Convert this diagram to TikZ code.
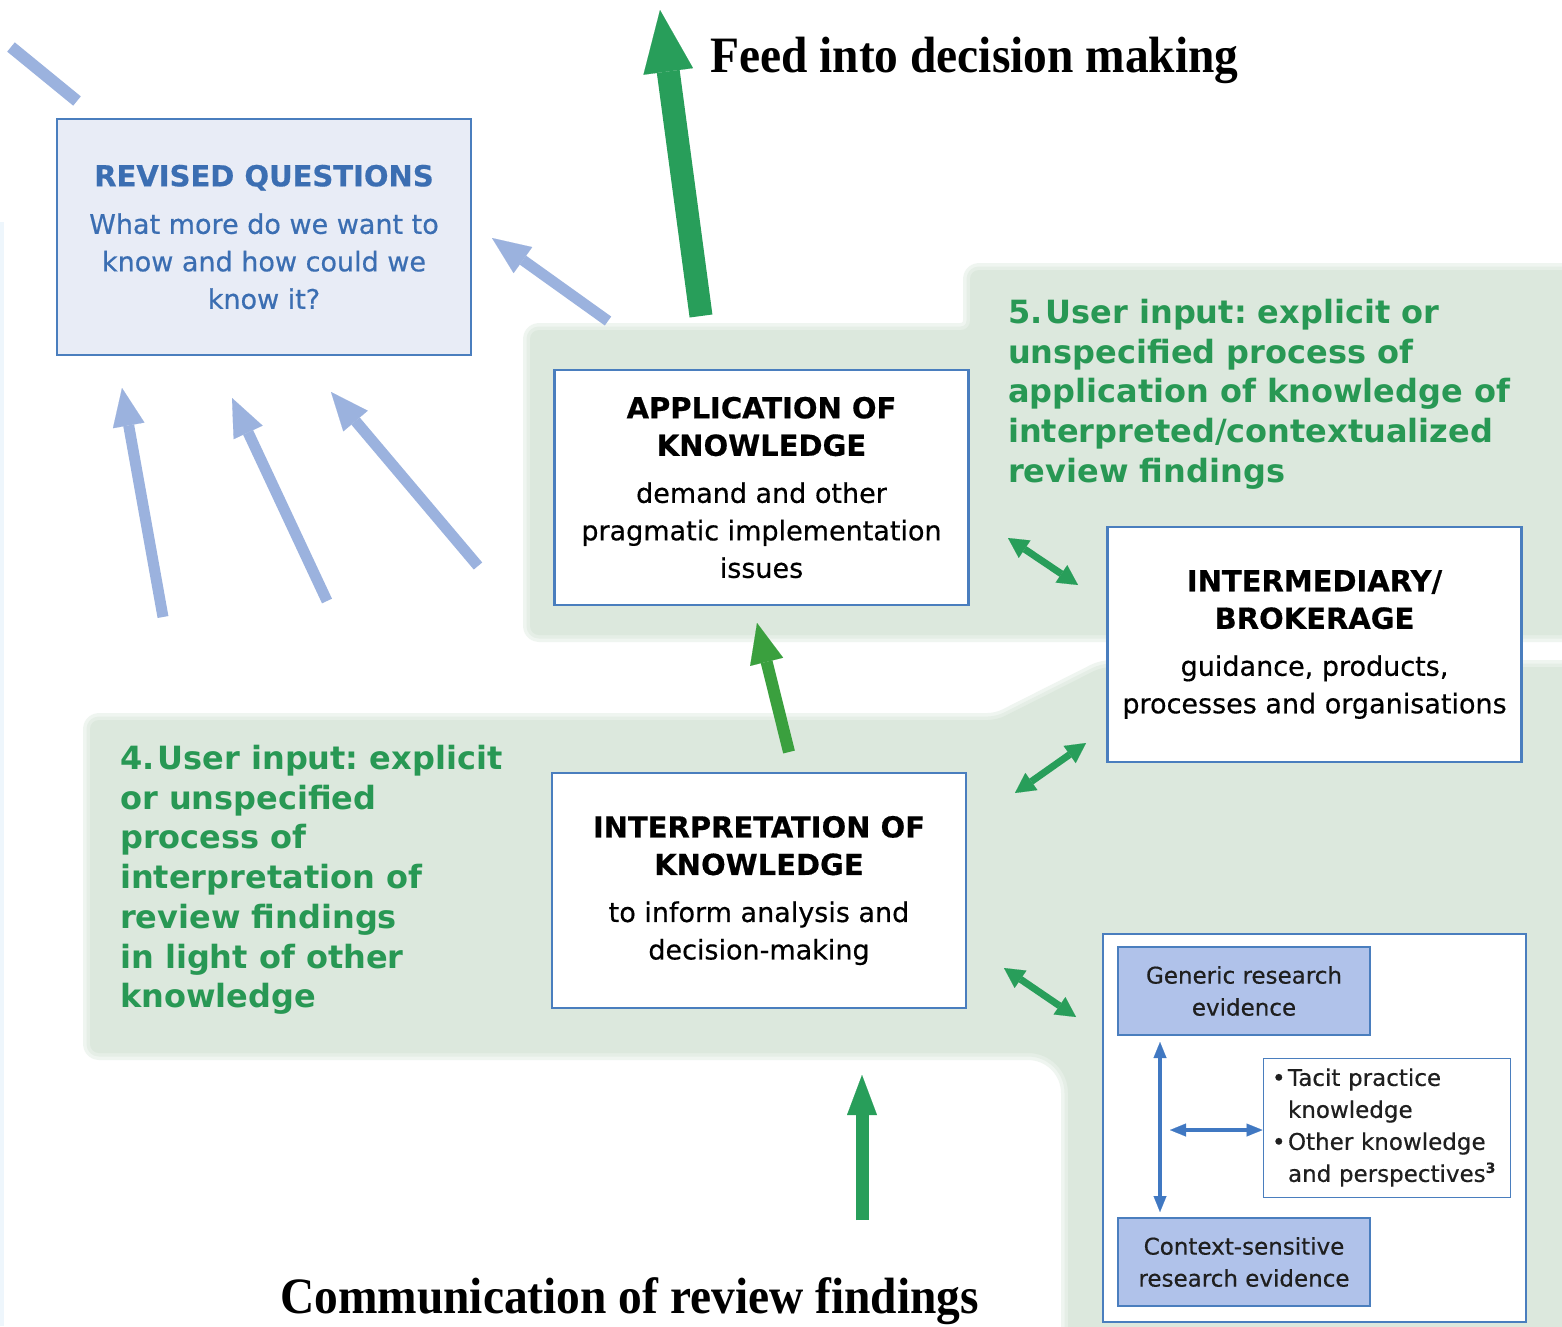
\documentclass[tikz,border=0pt]{standalone}
\usepackage{fontspec}
\setmainfont{DejaVu Sans}
\newfontfamily\titlefont{Liberation Serif}
\newfontfamily\bodyfam{DejaVu Sans}[FakeBold=0.5]
\usetikzlibrary{arrows.meta,calc}
\frenchspacing

\definecolor{bggreen}{RGB}{220,232,221}
\definecolor{boxblue}{RGB}{74,126,190}
\definecolor{qblue}{RGB}{59,110,178}
\definecolor{qfill}{RGB}{232,236,246}
\definecolor{evfill}{RGB}{176,194,234}
\definecolor{gtext}{RGB}{40,152,84}
\definecolor{garrow}{RGB}{40,158,90}
\definecolor{garrowb}{RGB}{58,160,62}
\definecolor{larrow}{RGB}{155,178,222}
\definecolor{evarrow}{RGB}{64,120,194}
\definecolor{edgestrip}{RGB}{238,246,252}

\newcommand\hdfont{\fontsize{29}{37.5}\selectfont\bfseries}
\newcommand\bdfont{\bodyfam\fontsize{27}{37.5}\selectfont}
\newcommand\evfont{\bodyfam\fontsize{23}{32}\selectfont}
\newcommand\usrfont{\fontsize{32}{39.7}\selectfont\bfseries}
\newcommand\ttlfont{\titlefont\fontsize{51}{60}\selectfont\bfseries}

\tikzset{
  card/.style={draw=boxblue, line width=2.2pt, fill=white, inner sep=0pt,
    minimum width=414pt, minimum height=235pt, align=center, font=\bdfont, text=black},
  qcard/.style={card, fill=qfill, minimum height=236pt, text=qblue},
  outerbox/.style={draw=boxblue, line width=2.2pt, fill=white, inner sep=0pt,
    minimum width=423pt, minimum height=388pt},
  evcard/.style={draw=boxblue, line width=1.2pt, fill=evfill, inner sep=0pt,
    minimum width=252pt, minimum height=88pt, align=center, font=\evfont, text=black!88},
  listcard/.style={draw=boxblue, line width=1pt, fill=white, inner xsep=9pt, inner ysep=0pt,
    text width=229pt, minimum height=139pt, align=left, font=\evfont, text=black!88},
  usertext/.style={inner sep=0pt, align=left, font=\usrfont, text=gtext, anchor=north west},
  headline/.style={inner sep=0pt, font=\ttlfont, text=black, anchor=base west},
  greenzone/.style={fill=bggreen, rounded corners=9pt},
  greenhalo/.style={draw=bggreen!45, line width=14pt, rounded corners=9pt, line join=round},
  greenhalob/.style={draw=bggreen!75, line width=7pt, rounded corners=9pt, line join=round},
  bigarrow/.style={draw=garrow, line width=23pt,
    -{Triangle[length=62pt, width=50pt, line width=0.1pt]}},
  midarrow/.style={draw=garrowb, line width=12pt,
    -{Triangle[length=40pt, width=34pt, line width=0.1pt]}},
  botarrow/.style={draw=garrow, line width=13pt,
    -{Triangle[length=40pt, width=30pt, line width=0.1pt]}},
  twoway/.style={draw=garrow, line width=7pt,
    {Triangle[length=20pt, width=21pt, line width=0.1pt]}-{Triangle[length=20pt, width=21pt, line width=0.1pt]}},
  backarrow/.style={draw=larrow, line width=11pt,
    -{Triangle[length=38pt, width=32pt, line width=0.1pt]}},
  evlink/.style={draw=evarrow, line width=3.5pt,
    {Triangle[length=16pt, width=13pt, line width=0.1pt]}-{Triangle[length=16pt, width=13pt, line width=0.1pt]}},
}

\begin{document}
\begin{tikzpicture}[x=1pt, y=-1pt]
\useasboundingbox (0,0) rectangle (1562,1326);
\fill[white] (0,0) rectangle (1562,1326);
\fill[edgestrip] (0,222) rectangle (4,1326);

% green process zones
\def\upperzone{(530,330) -- (970,330) -- (970,270) -- (1590,270) -- (1590,635) -- (530,635) -- cycle}
\def\lowerzone{(90,720) -- (997,720) -- (1102,667) -- (1590,667) -- (1590,1360) -- (1068,1360) [rounded corners=40pt] -- (1068,1053) [rounded corners=9pt] -- (90,1053) -- cycle}
\draw[greenhalo] \upperzone;
\draw[greenhalo] \lowerzone;
\draw[greenhalob] \upperzone;
\draw[greenhalob] \lowerzone;
\fill[greenzone] \upperzone;
\fill[greenzone] \lowerzone;

% boxes
\node[qcard] (revised) at (264,237)
  {{\hdfont REVISED QUESTIONS}\\[10pt]What more do we want to\\know and how could we\\know it?};
\node[card] (apply) at (761.5,487.5)
  {{\hdfont APPLICATION OF}\\{\hdfont KNOWLEDGE}\\[9.5pt]demand and other\\pragmatic implementation\\issues};
\node[card] (broker) at (1314.5,644.5)
  {{\hdfont INTERMEDIARY/}\\{\hdfont BROKERAGE}\\[9.5pt]guidance, products,\\processes and organisations};
\node[card] (interp) at (759,890.5)
  {\rule{0pt}{7pt}{\hdfont INTERPRETATION OF}\\{\hdfont KNOWLEDGE}\\[9.5pt]to inform analysis and\\decision-making};

\node[outerbox] (evidence) at (1314.5,1128) {};
\node[evcard] (generic) at (1244,991) {Generic research\\evidence};
\node[evcard] (context) at (1244,1262) {Context-sensitive\\research evidence};
\node[listcard] (tacit) at (1386.5,1127.5)
  {\makebox[16pt][l]{•}Tacit practice\\\hspace*{16pt}knowledge\\\makebox[16pt][l]{•}Other knowledge\\\hspace*{16pt}and perspectives\raisebox{9pt}{\fontsize{14}{14}\selectfont\bfseries 3}};

% user input labels
\node[usertext] (input5) at (1008,299)
  {5.\hspace{3pt}User input: explicit or\\unspecified process of\\application of knowledge of\\interpreted/contextualized\\review findings};
\node[usertext] (input4) at (120,745)
  {4.\hspace{3pt}User input: explicit\\or unspecified\\process of\\interpretation of\\review findings\\in light of other\\knowledge};

% headings
\node[headline] (feed) at (710,72) {\scalebox{0.93}[1]{Feed into decision making}};
\node[headline] (comm) at (280,1313) {\scalebox{0.93}[1]{Communication of review findings}};

% green arrows
\coordinate (feedtail) at (701,316);
\coordinate (feedtip) at (660,10);
\draw[bigarrow] (feedtail) -- (feedtip);
\coordinate (uptail) at (789,752);
\coordinate (uptip) at (757,623);
\draw[midarrow] (uptail) -- (uptip);
\coordinate (commtail) at (862,1220);
\coordinate (commtip) at (862,1075);
\draw[botarrow] (commtail) -- (commtip);

\coordinate (ab1) at (1008,538);
\coordinate (ab2) at (1078,585);
\draw[twoway] (ab1) -- (ab2);
\coordinate (bi1) at (1086,743);
\coordinate (bi2) at (1015,793);
\draw[twoway] (bi1) -- (bi2);
\coordinate (ie1) at (1004,968);
\coordinate (ie2) at (1076,1017);
\draw[twoway] (ie1) -- (ie2);

% light blue feedback arrows
\coordinate (fb0a) at (11,47);
\coordinate (fb0b) at (77,101);
\draw[draw=larrow, line width=12pt] (fb0a) -- (fb0b);
\coordinate (fb1t) at (608,321);
\coordinate (fb1h) at (492,238);
\draw[backarrow] (fb1t) -- (fb1h);
\coordinate (fb2t) at (163,617);
\coordinate (fb2h) at (122,388);
\draw[backarrow] (fb2t) -- (fb2h);
\coordinate (fb3t) at (327,601);
\coordinate (fb3h) at (232,398);
\draw[backarrow] (fb3t) -- (fb3h);
\coordinate (fb4t) at (478,566);
\coordinate (fb4h) at (331,392);
\draw[backarrow] (fb4t) -- (fb4h);

% links inside the evidence panel
\coordinate (vtop) at (1160,1042);
\coordinate (vbot) at (1160,1212);
\draw[evlink] (vtop) -- (vbot);
\coordinate (hleft) at (1170,1130);
\draw[evlink] (hleft) -- (hleft -| tacit.west);
\end{tikzpicture}
\end{document}
